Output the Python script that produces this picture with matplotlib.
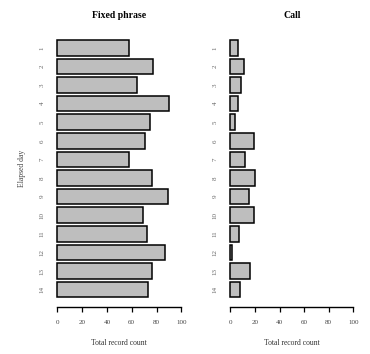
import matplotlib
matplotlib.use("Agg")
import matplotlib.pyplot as plt
import numpy as np

days = [str(i) for i in range(1, 15)]
fixed_phrase = [58, 77, 64, 90, 75, 71, 58, 76, 89, 69, 72, 87, 76, 73]
call = [6, 11, 9, 6, 4, 19, 12, 20, 15, 19, 7, 1, 16, 8]
x_ticks = [0, 20, 40, 60, 80, 100]
titles = ["Fixed phrase", "Call"]

plt.rcParams['font.family'] = ['Liberation Serif', 'DejaVu Serif']

W, H = 370, 354
fig = plt.figure(figsize=(W / 100, H / 100), dpi=100)

def px_axes(x0, x1, y0, y1):
    # pixel coords (top-left origin) -> figure fraction
    return fig.add_axes([x0 / W, 1 - y1 / H, (x1 - x0) / W, (y1 - y0) / H])

pos = np.arange(1, 15)
panels = [(57.3, 181.3, fixed_phrase), (230.3, 353.3, call)]
top_px, bot_px = 30.0, 307.3
ylim_bottom = 1 + (bot_px - 47.8) / 18.6
ylim_top = 1 + (top_px - 47.8) / 18.6

for k, (x0, x1, vals) in enumerate(panels):
    scale = (x1 - x0) / 100.0
    ax = px_axes(x0 - 4 * scale, x1 + 4 * scale, top_px, bot_px)
    ax.barh(pos, vals, height=0.833, color='#bebebe', edgecolor='black', linewidth=1.1)
    ax.set_xlim(-4, 104)
    ax.set_ylim(ylim_bottom, ylim_top)
    for s in ['top', 'right', 'left']:
        ax.spines[s].set_visible(False)
    ax.spines['bottom'].set_bounds(0, 100)
    ax.spines['bottom'].set_linewidth(1.0)
    ax.set_xticks(x_ticks)
    ax.set_xticklabels([str(t) for t in x_ticks], fontsize=5, color='#444444')
    ax.tick_params(axis='x', length=3.5, width=0.9, pad=6)
    ax.set_yticks(pos)
    ax.set_yticklabels(days, rotation=90, fontsize=5, color='#666666', va='center')
    ax.tick_params(axis='y', length=0, pad=5.6)
    ax.set_xlabel("Total record count", fontsize=5.5, color='#333333', labelpad=10)
    ax.patch.set_alpha(0)

fig.text(((57.3 + 181.3) / 2) / W, 1 - 15.7 / H, titles[0], fontsize=7, fontweight='bold', ha='center', va='center')
fig.text(((230.3 + 353.3) / 2) / W, 1 - 15.7 / H, titles[1], fontsize=7, fontweight='bold', ha='center', va='center')
fig.text(22 / W, 1 - 168 / H, "Elapsed day", fontsize=5.5, rotation=90, ha='center', va='center', color='#444444')

fig.savefig("out.png", dpi=100)
